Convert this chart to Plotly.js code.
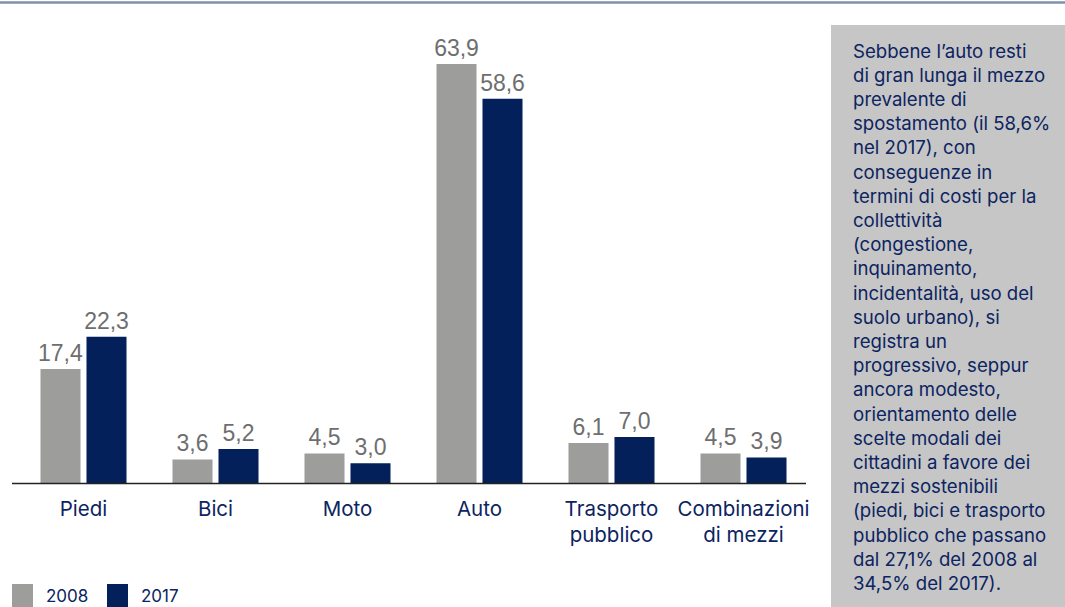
<!DOCTYPE html>
<html>
<head>
<meta charset="utf-8">
<script src="https://cdn.plot.ly/plotly-3.0.1.min.js"></script>
<style>html,body{margin:0;padding:0;background:#fff;}#chart{width:1065px;height:607px;}</style>
</head>
<body>
<div id="chart"></div>
<script>
// ---- data ----
const categories = ["Piedi", "Bici", "Moto", "Auto", "Trasporto<br>pubblico", "Combinazioni<br>di mezzi"];
const values2008 = [17.4, 3.6, 4.5, 63.9, 6.1, 4.5];
const values2017 = [22.3, 5.2, 3.0, 58.6, 7.0, 3.9];
const seriesNames = ["2008", "2017"];
const noteLines = [
  "Sebbene l’auto resti",
  "di gran lunga il mezzo",
  "prevalente di",
  "spostamento (il 58,6%",
  "nel 2017), con",
  "conseguenze in",
  "termini di costi per la",
  "collettività",
  "(congestione,",
  "inquinamento,",
  "incidentalità, uso del",
  "suolo urbano), si",
  "registra un",
  "progressivo, seppur",
  "ancora modesto,",
  "orientamento delle",
  "scelte modali dei",
  "cittadini a favore dei",
  "mezzi sostenibili",
  "(piedi, bici e trasporto",
  "pubblico che passano",
  "dal 27,1% del 2008 al",
  "34,5% del 2017)."
];

// ---- style ----
const W = 1065, H = 607;
const GRAY = "#9d9d9c", NAVY = "#03205b", TXT = "#0c2461", VAL = "#6e6e6e";
const px = x => x / W;
const py = y => (H - y) / H;
const textFont = "Inter, 'Noto Sans', sans-serif";

const barCommon = {
  type: "bar",
  x: categories,
  textposition: "outside",
  texttemplate: "%{y:.1f}",
  textfont: {family: "Arial, 'Liberation Sans', sans-serif", size: 23, color: VAL},
  constraintext: "none",
  cliponaxis: false,
  hoverinfo: "skip",
  showlegend: false
};

const traces = [
  Object.assign({}, barCommon, {name: seriesNames[0], y: values2008, marker: {color: GRAY}}),
  Object.assign({}, barCommon, {name: seriesNames[1], y: values2017, marker: {color: NAVY}})
];

const shapes = [
  // top rule
  {type: "line", xref: "paper", yref: "paper", x0: 0, x1: 1, y0: py(2.5), y1: py(2.5),
   line: {color: "#8091ae", width: 2.5}},
  // side box
  {type: "rect", xref: "paper", yref: "paper", x0: px(831), x1: 1, y0: 0, y1: py(25),
   fillcolor: "#c6c6c6", line: {width: 0}, layer: "below"},
  // baseline
  {type: "line", xref: "paper", yref: "paper", x0: px(12), x1: px(806), y0: py(483.5), y1: py(483.5),
   line: {color: "#222222", width: 1.5}},
  // legend swatches
  {type: "rect", xref: "paper", yref: "paper", x0: px(12), x1: px(33), y0: py(607), y1: py(584),
   fillcolor: GRAY, line: {width: 0}},
  {type: "rect", xref: "paper", yref: "paper", x0: px(107), x1: px(128), y0: py(607), y1: py(584),
   fillcolor: NAVY, line: {width: 0}}
];

const annotations = [
  {xref: "paper", yref: "paper", x: px(44), y: py(596), xanchor: "left", yanchor: "middle",
   text: seriesNames[0], showarrow: false, font: {family: textFont, size: 17, color: TXT}},
  {xref: "paper", yref: "paper", x: px(139), y: py(596), xanchor: "left", yanchor: "middle",
   text: seriesNames[1], showarrow: false, font: {family: textFont, size: 17, color: TXT}}
];
noteLines.forEach((t, i) => {
  annotations.push({xref: "paper", yref: "paper", x: px(851), y: py(50.5 + 24.2 * i),
    xanchor: "left", yanchor: "middle", text: t, showarrow: false,
    font: {family: textFont, size: 18.6, color: TXT}});
});

const layout = {
  width: W, height: H,
  margin: {l: 0, r: 0, t: 0, b: 0, pad: 0},
  paper_bgcolor: "#ffffff", plot_bgcolor: "rgba(0,0,0,0)",
  separators: ",.",
  barmode: "group",
  bargap: 0.303,
  bargroupgap: 0.13,
  xaxis: {
    domain: [px(17.5), px(809.5)],
    showgrid: false, zeroline: false, showline: false, ticks: "",
    tickfont: {family: textFont, size: 20.5, color: TXT},
    ticklabelstandoff: 11,
    fixedrange: true
  },
  yaxis: {
    domain: [py(483), py(24)],
    range: [0, 70],
    visible: false, showgrid: false, zeroline: false, fixedrange: true
  },
  shapes: shapes,
  annotations: annotations,
  showlegend: false
};

Plotly.newPlot("chart", traces, layout, {displayModeBar: false, staticPlot: true});
</script>
</body>
</html>
